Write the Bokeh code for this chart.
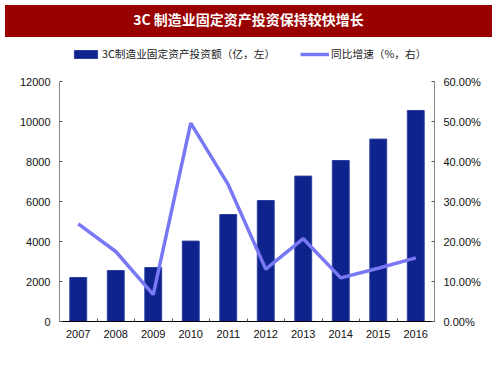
from bokeh.plotting import figure
from bokeh.models import (Range1d, LinearAxis, FixedTicker, PrintfTickFormatter,
                          Legend, LegendItem, Div, ColumnDataSource)
from bokeh.layouts import column
from bokeh.embed import file_html
from bokeh.resources import INLINE

title_text = "3C 制造业固定资产投资保持较快增长"
years = [2007, 2008, 2009, 2010, 2011, 2012, 2013, 2014, 2015, 2016]
invest = [2200, 2550, 2700, 4020, 5350, 6050, 7270, 8050, 9120, 10550]
growth = [24.4, 17.5, 6.7, 49.6, 34.2, 13.1, 20.7, 10.9, 13.3, 15.9]
bar_label = "3C制造业固定资产投资额（亿，左）"
line_label = "同比增速（%，右）"
left_ticks = [0, 2000, 4000, 6000, 8000, 10000, 12000]
right_ticks = [0, 10, 20, 30, 40, 50, 60]
left_max, right_max = 12000, 60

src = ColumnDataSource(dict(year=years, invest=invest, growth=growth))

header = Div(text=title_text, width=487, height=32,
             styles={"background-color": "#990000", "color": "white",
                     "font-weight": "bold", "font-size": "14px",
                     "text-align": "center", "line-height": "28px",
                     "font-family": "Noto Sans CJK SC"})

# frame: top part holds the legend, the axes are bounded to their data range
frame_h, data_h = 277, 240
stretch = frame_h / data_h

p = figure(width=487, height=330, output_backend="svg", toolbar_location=None,
           x_range=Range1d(years[0] - 0.5, years[-1] + 0.5),
           y_range=Range1d(0, left_max * stretch),
           min_border_left=59, min_border_right=53,
           min_border_top=2, min_border_bottom=51)
p.outline_line_color = None
p.xgrid.visible = False
p.ygrid.visible = False
p.yaxis.visible = False
p.xaxis.visible = False

p.extra_y_ranges = {"pct": Range1d(0, right_max * stretch)}

bars = p.vbar(x="year", top="invest", width=0.45, source=src,
              fill_color="#0E238C", line_color="#2a3f9f", line_width=1)
line = p.line(x="year", y="growth", source=src, y_range_name="pct",
              line_color="#7878F5", line_width=3.5)

label_font = "Liberation Sans"

ly = LinearAxis(ticker=FixedTicker(ticks=left_ticks), bounds=(0, left_max))
ry = LinearAxis(y_range_name="pct", ticker=FixedTicker(ticks=right_ticks),
                formatter=PrintfTickFormatter(format="%.2f%%"),
                bounds=(0, right_max))
bx = LinearAxis(ticker=FixedTicker(ticks=years,
                                   minor_ticks=[y + 0.5 for y in years[:-1]]))
for ax in (ly, ry, bx):
    ax.major_label_text_font = label_font
    ax.major_label_text_font_size = "11px"
    ax.major_label_text_color = "#111111"
    ax.major_tick_in = 3
    ax.major_tick_out = 0
    ax.minor_tick_line_color = None
    ax.major_label_standoff = 9
ly.axis_line_color = "#888888"
ly.major_tick_line_color = "#555555"
ry.axis_line_color = "#888888"
ry.major_tick_line_color = "#555555"
bx.axis_line_color = "#000000"
bx.major_tick_line_color = None
bx.minor_tick_line_color = "#555555"
bx.minor_tick_in = 3
bx.minor_tick_out = 0
bx.major_label_standoff = 8

p.add_layout(ly, "left")
p.add_layout(ry, "right")
p.add_layout(bx, "below")

legend = Legend(items=[LegendItem(label=bar_label, renderers=[bars]),
                       LegendItem(label=line_label, renderers=[line])],
                orientation="horizontal", location=(12, 260),
                glyph_width=29, glyph_height=10, label_standoff=2, spacing=25,
                label_text_font="Noto Sans CJK SC", label_text_font_size="10.7px",
                label_text_color="#222222", border_line_color=None,
                background_fill_alpha=0, padding=0, margin=0,
                label_height=10)
p.add_layout(legend, "center")

layout = column(header, p, spacing=0)
open("out.html", "w").write(file_html(layout, INLINE))
